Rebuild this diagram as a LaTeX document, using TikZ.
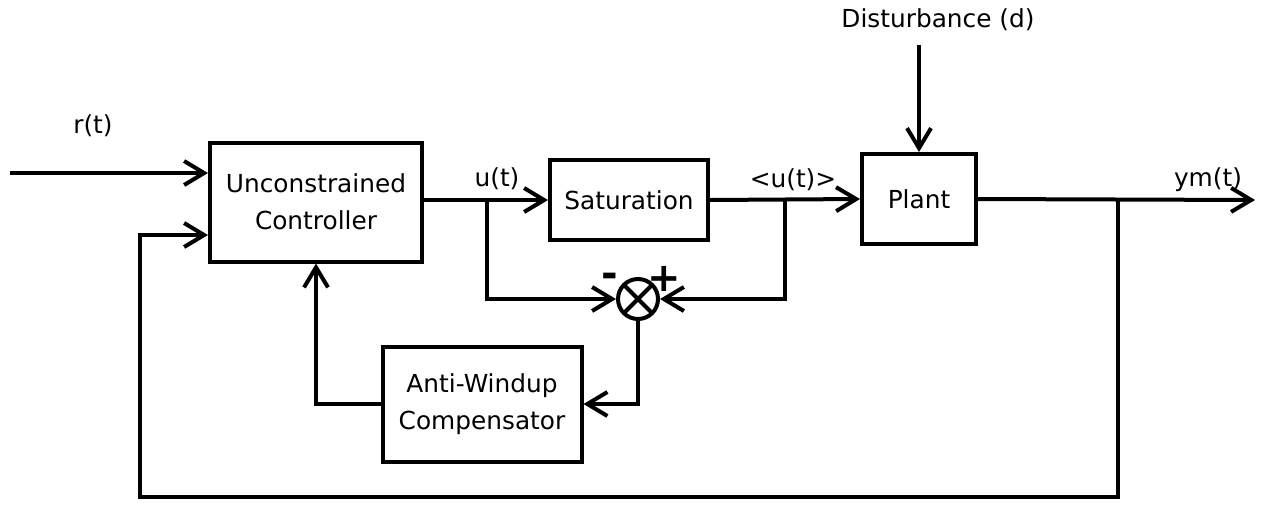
\documentclass[tikz,border=0pt]{standalone}
\usepackage{fontspec}
\setmainfont{DejaVu Sans}
\usetikzlibrary{arrows.meta, positioning}

\begin{document}
\begin{tikzpicture}[x=0.5pt, y=-0.5pt, line width=2pt,
    every node/.style={font=\fontsize{12.4}{18.5}\selectfont},
    block/.style={draw, line width=2pt, align=center},
    sumnode/.style={draw, circle, line width=2pt, minimum size=20pt, inner sep=0pt,
      path picture={\draw[line width=2pt] (path picture bounding box.north west) -- (path picture bounding box.south east)
        (path picture bounding box.north east) -- (path picture bounding box.south west);}},
    sign/.style={font=\fontsize{20}{20}\selectfont\bfseries, inner sep=0pt},
    >={Straight Barb[length=10pt, width=12pt]}]
    \useasboundingbox (0,0) rectangle (1263,504);
    \node[block, minimum width=106pt, minimum height=59.5pt] (ctrl) at (316,202) {Unconstrained\\Controller};
    \node[block, minimum width=79pt, minimum height=40pt] (sat) at (629,200) {Saturation};
    \node[block, minimum width=57pt, minimum height=45pt] (plant) at (919,199) {Plant};
    \node[block, minimum width=99.5pt, minimum height=57.5pt] (aw) at (482,404) {Anti-Windup\\Compensator};
    \node[sumnode] (sum) at (638,299) {};
    \node[sign] (minus) at (610,280) {-};
    \node[sign] (plus) at (664,279) {+};
    \node (rlbl) at (93,126) {r(t)};
    \node (ulbl) at (497,179) {u(t)};
    \node (satlbl) at (793,180) {<u(t)>};
    \node (ylbl) at (1208,180) {ym(t)};
    \node (dist) at (938,20) {Disturbance (d)};
    \coordinate (rin) at (10,173);
    \coordinate (ubr) at (487,200);
    \coordinate (sbr) at (785,200);
    \coordinate (ybr) at (1118,200);
    \coordinate (yout) at (1255,200);
    \coordinate (din) at (919,45);
    \coordinate (fbl) at (140,497);
    \coordinate (fbin) at (140,235);
    \draw[->] (rin) -- (rin -| ctrl.west);
    \draw[->] (ctrl.east |- sat.west) -- (sat.west);
    \draw[->] (ubr) |- (sum.west);
    \draw[->] (sat.east) -- (plant.west);
    \draw[->] (sbr) |- (sum.east);
    \draw[->] (din) -- (plant.north);
    \draw[->] (plant.east) -- (yout);
    \draw[->] (ybr) -- (ybr |- fbl) -- (fbl) -- (fbin) -- (fbin -| ctrl.west);
    \draw[->] (sum.south) |- (aw.east);
    \draw[->] (aw.west) -| (ctrl.south);
  \end{tikzpicture}
\end{document}
